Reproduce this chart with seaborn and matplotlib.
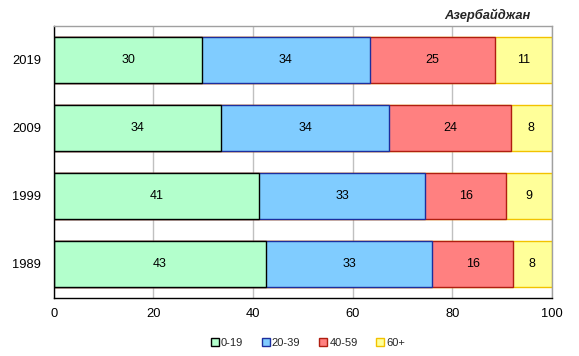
import pandas as pd
import seaborn as sns
import matplotlib.pyplot as plt
from matplotlib.patches import Patch

# data (shares of population by age group, %)
years = ["2019", "2009", "1999", "1989"]
groups = ["0-19", "20-39", "40-59", "60+"]
v_0_19 = [29.8, 33.6, 41.2, 42.6]
v_20_39 = [33.6, 33.8, 33.4, 33.4]
v_40_59 = [25.2, 24.4, 16.2, 16.2]
v_60 = [11.4, 8.2, 9.2, 7.8]

face = ["#B3FFCC", "#80CCFF", "#FF8080", "#FFFF99"]
edge = ["#000000", "#1C2E9E", "#B01E10", "#F2C200"]

sns.set_theme(style="white")
plt.rcParams["font.family"] = ["Liberation Sans", "DejaVu Sans"]

df = pd.DataFrame({"year": years, "0-19": v_0_19, "20-39": v_20_39,
                   "40-59": v_40_59, "60+": v_60})
cum = df[groups].cumsum(axis=1)
cum["year"] = df["year"]

fig = plt.figure(figsize=(5.79, 3.56), dpi=100)
ax = fig.add_axes([0.093, 0.163, 0.860, 0.764])

# stacked bars: draw cumulative totals, longest first
for i in range(len(groups) - 1, -1, -1):
    sns.barplot(data=cum, x=groups[i], y="year", order=years, orient="h",
                color=face[i], edgecolor=edge[i], linewidth=1.0,
                width=0.676, saturation=1, ax=ax)

# value labels in the middle of each segment
for r in range(len(years)):
    left = 0
    for g in groups:
        val = df[g][r]
        ax.text(left + val / 2, r, f"{val:.0f}", ha="center", va="center",
                fontsize=9, color="black")
        left += val

ax.set_xlim(0, 100)
ax.set_ylim(3.5, -0.5)
ax.set_xticks([0, 20, 40, 60, 80, 100])
ax.set_xlabel("")
ax.set_ylabel("")
ax.tick_params(axis="both", length=0, labelsize=9.3, colors="black")
ax.tick_params(axis="x", pad=7)
ax.tick_params(axis="y", pad=9)
ax.xaxis.grid(True, color="#C0C0C0", linewidth=1)
ax.set_axisbelow(True)
for s in ["left", "bottom"]:
    ax.spines[s].set_color("black")
    ax.spines[s].set_linewidth(1)
for s in ["top", "right"]:
    ax.spines[s].set_color("#A0A0A0")
    ax.spines[s].set_linewidth(1)

fig.text(0.917, 0.958, "Азербайджан", ha="right", va="center",
         fontsize=9.3, fontweight="bold", fontstyle="italic")

handles = [Patch(facecolor=face[i], edgecolor=edge[i], linewidth=1, label=groups[i])
           for i in range(len(groups))]
fig.legend(handles=handles, loc="center", bbox_to_anchor=(0.532, 0.036), ncol=4,
           frameon=False, fontsize=8, handlelength=0.7, handleheight=0.7,
           handletextpad=0.2, columnspacing=1.7)

fig.savefig("out.png", dpi=100)
